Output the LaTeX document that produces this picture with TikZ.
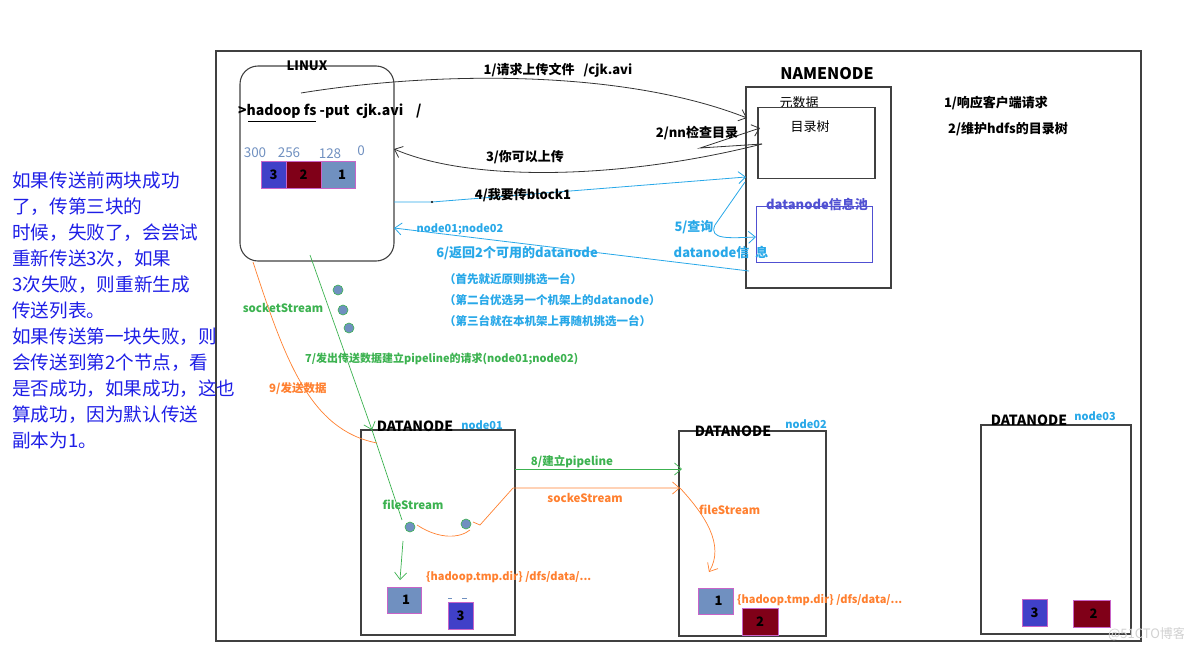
\documentclass[tikz,border=0pt]{standalone}
\usepackage{fontspec}
\setmainfont{Noto Sans CJK SC}
\usetikzlibrary{arrows.meta}
\definecolor{lblue}{RGB}{40,168,232}
\definecolor{dgreen}{RGB}{60,178,80}
\definecolor{orng}{RGB}{255,128,48}
\definecolor{steel}{RGB}{112,144,192}
\definecolor{dred}{RGB}{128,0,24}
\definecolor{bblue}{RGB}{64,64,200}
\definecolor{pborder}{RGB}{200,100,200}
\definecolor{ltxt}{RGB}{30,30,230}
\definecolor{pool}{RGB}{80,80,210}
\definecolor{frame}{RGB}{64,64,64}
\begin{document}
\begin{tikzpicture}[x=1pt,y=-1pt,
  box/.style={draw=frame, line width=1.1pt, inner sep=0},
  blk/.style={draw=pborder, line width=0.8pt, inner sep=0, font=\bfseries\fontsize{13}{15}\selectfont, text=black},
  arr/.style={-{Straight Barb[length=7pt,width=12pt]}},
  lbl/.style={inner sep=0, font=\bfseries\fontsize{13}{15}\selectfont},
  slbl/.style={inner sep=0, font=\bfseries\fontsize{11.5}{14}\selectfont},
  tlbl/.style={inner sep=0, font=\bfseries\fontsize{11}{13}\selectfont},
  dot/.style={circle, fill=steel, draw=dgreen, line width=0.6pt, minimum size=10pt, inner sep=0},
]
\useasboundingbox (0,0) rectangle (1184,651);
% outer frame
\node[box, minimum width=925pt, minimum height=590pt] (frame) at (678.5,346) {};

% left text
\node[inner sep=0, anchor=north west, align=left, text=ltxt,
      font=\fontsize{18.6}{26}\selectfont] (note) at (12,172) {%
如果传送前两块成功\\了，传第三块的\\时候，失败了，会尝试\\重新传送3次，如果\\3次失败，则重新生成\\传送列表。\\如果传送第一块失败，则\\会传送到第2个节点，看\\是否成功，如果成功，这也\\算成功，因为默认传送\\副本为1。};

% LINUX box
\node[box, rounded corners=18pt, minimum width=154pt, minimum height=195pt] (linux) at (317,163.5) {};
\node[lbl] (linuxt) at (307,66) {LINUX};
\node[inner sep=0, anchor=west, font=\bfseries\fontsize{14}{16}\selectfont] (cmd) at (238,111) {>hadoop fs -put\ \ cjk.avi\ \ \ \ /};
\draw[line width=0.8pt] (248,121) -- (316,121);
\node[inner sep=0, text=steel, font=\fontsize{13.5}{15}\selectfont] (n300) at (255,153) {300};
\node[inner sep=0, text=steel, font=\fontsize{13.5}{15}\selectfont] (n256) at (289,153) {256};
\node[inner sep=0, text=steel, font=\fontsize{13.5}{15}\selectfont] (n128) at (330,154) {128};
\node[inner sep=0, text=steel, font=\fontsize{13.5}{15}\selectfont] (n0) at (361,151) {0};
\node[blk, fill=bblue, minimum width=25pt, minimum height=27pt] (b3) at (273.5,174.5) {\raisebox{-5pt}{3}};
\node[blk, fill=dred, minimum width=35pt, minimum height=27pt] (b2) at (303.5,174.5) {\raisebox{-2pt}{2}};
\node[blk, fill=steel, minimum width=34pt, minimum height=27pt] (b1) at (338,174.5) {\raisebox{-2pt}{\hspace{8pt}1}};

% NAMENODE
\node[box, minimum width=145pt, minimum height=201pt] (nn) at (818.5,187.5) {};
\node[inner sep=0, font=\bfseries\fontsize{16}{18}\selectfont] (nnt) at (827,74) {NAMENODE};
\node[inner sep=0, font=\fontsize{13}{15}\selectfont] (meta) at (799,103) {元数据};
\node[box, minimum width=117pt, minimum height=71pt] (tree) at (816.5,143) {};
\node[inner sep=0, font=\fontsize{13}{15}\selectfont] (treet) at (810,127) {目录树};
\node[draw=pool, line width=0.9pt, inner sep=0, minimum width=116pt, minimum height=56pt] (poolbox) at (814,234) {};
\node[lbl, text=pool] (poolt) at (817,205) {datanode信息池};
\node[lbl] (r1) at (996,103) {1/响应客户端请求};
\node[lbl] (r2) at (1008,129) {2/维护hdfs的目录树};

% coordinates
\coordinate (c1s) at (301,93);
\coordinate (c1e) at (747,118);
\coordinate (c2s) at (762,144);
\coordinate (c2m) at (700,148);
\coordinate (c2e) at (760,128);
\coordinate (c3e) at (394,149);
\coordinate (c4s) at (394,202);
\coordinate (c4m) at (432,202);
\coordinate (c4e) at (746,177);
\coordinate (c5s) at (745,182);
\coordinate (c5m) at (715,225);
\coordinate (c5e) at (756,237);
\coordinate (c6s) at (749,271);
\coordinate (c6e) at (394,228);

% arrows 1-6
\draw[arr, line width=0.8pt, black!80] (c1s) .. controls (430,72) and (620,68) .. (c1e);
\node[lbl] (l1) at (558,70) {1/请求上传文件\ \ \ /cjk.avi};
\draw[arr, line width=0.8pt, black!80] (c2s) -- (c2m) -- (c2e);
\node[lbl] (l2) at (697,133) {2/nn检查目录};
\draw[arr, line width=0.8pt, black!80] (c2s) .. controls (620,180) and (470,182) .. (c3e);
\node[lbl] (l3) at (525,157) {3/你可以上传};
\draw[arr, line width=0.8pt, lblue] (c4s) -- (c4m) -- (c4e);
\fill (c4m) circle (1.2pt);
\node[lbl] (l4) at (523,195) {4/我要传block1};
\draw[arr, line width=0.8pt, lblue] (c5s) -- (c5m) .. controls (708,240) and (730,238) .. (c5e);
\node[lbl, text=lblue] (l5) at (694,227) {5/查询};
\node[lbl, text=lblue] (l5b) at (721,253) {datanode信\ \ 息};
\draw[arr, line width=0.8pt, lblue] (c6s) -- (c6e);
\node[tlbl, text=lblue] (l6a) at (460,229) {node01;node02};
\node[lbl, text=lblue] (l6) at (517,253) {6/返回2个可用的datanode};
\node[slbl, text=lblue, anchor=west] (q1) at (444,279) {（首先就近原则挑选一台）};
\node[slbl, text=lblue, anchor=west] (q2) at (444,300) {（第二台优选另一个机架上的datanode）};
\node[slbl, text=lblue, anchor=west] (q3) at (444,321) {（第三台就在本机架上再随机挑选一台）};

% DATANODE boxes
\node[box, minimum width=154pt, minimum height=205pt] (dn1) at (438,532.5) {};
\node[inner sep=0, font=\bfseries\fontsize{14}{16}\selectfont] (dn1t) at (415,426) {DATANODE};
\node[tlbl, text=lblue] (dn1n) at (482,425) {node01};
\node[box, minimum width=147pt, minimum height=205pt] (dn2) at (752.5,533.5) {};
\node[inner sep=0, font=\bfseries\fontsize{14}{16}\selectfont] (dn2t) at (733,431) {DATANODE};
\node[tlbl, text=lblue] (dn2n) at (806,424) {node02};
\node[box, minimum width=150pt, minimum height=209pt] (dn3) at (1056,529.5) {};
\node[inner sep=0, font=\bfseries\fontsize{14}{16}\selectfont] (dn3t) at (1029,420) {DATANODE};
\node[tlbl, text=lblue] (dn3n) at (1095,416) {node03};

% green 7 and dots
\coordinate (g7s) at (310,255);
\coordinate (g7e) at (372,430);
\coordinate (g7f) at (402,520);
\draw[arr, line width=0.7pt, dgreen] (g7s) -- (g7e);
\draw[line width=0.7pt, dgreen] (g7e) -- (g7f);
\node[dot] (d1) at (338,290) {};
\node[dot] (d2) at (343,310) {};
\node[dot] (d3) at (349,328) {};
\node[slbl, text=dgreen] (sock) at (283,308) {socketStream};
\node[tlbl, text=dgreen, anchor=west] (l7) at (305,359) {7/发出传送数据建立pipeline的请求(node01;node02)};

% orange 9
\coordinate (o9s) at (253,262);
\coordinate (o9e) at (377,443);
\draw[line width=0.7pt, orng] (o9s) .. controls (285,360) and (310,430) .. (o9e);
\node[slbl, text=orng, anchor=west] (l9) at (269,389) {9/发送数据};

% inside node01
\node[slbl, text=dgreen] (fs1) at (413,505) {fileStream};
\node[dot] (d4) at (410,527) {};
\node[dot] (d5) at (466,524) {};
\coordinate (gd1) at (403,541);
\coordinate (gd2) at (400,580);
\draw[arr, line width=0.7pt, dgreen] (gd1) -- (gd2);
\coordinate (o1) at (417,525);
\coordinate (o2) at (473,522);
\coordinate (o3) at (480,525);
\coordinate (o4) at (513,488);
\coordinate (o5) at (680,488);
\draw[line width=0.7pt, orng] (o1) .. controls (440,540) and (460,538) .. (470,530);
\draw[arr, line width=0.7pt, orng] (o2) -- (o3) -- (o4) -- (o5);
\coordinate (g8s) at (515,469);
\coordinate (g8e) at (682,469);
\draw[arr, line width=0.7pt, dgreen] (g8s) -- (g8e);
\node[slbl, text=dgreen] (l8) at (572,462) {8/建立pipeline};
\node[slbl, text=orng] (sk) at (585,498) {sockeStream};
\node[tlbl, text=orng, anchor=west] (hd1) at (426,577) {\{hadoop.tmp.dir\} /dfs/data/...};
\node[blk, fill=steel, minimum width=34pt, minimum height=26pt] (n1b1) at (404,600) {\hspace{4pt}1};
\node[blk, fill=bblue, minimum width=25pt, minimum height=27pt] (n1b3) at (460.5,615.5) {\raisebox{-3pt}{3}};
\draw[steel, line width=0.8pt] (448,598) -- (452,598) (462,598) -- (467,598);

% inside node02
\coordinate (o6) at (709,572);
\draw[arr, line width=0.7pt, orng] (o5) .. controls (705,515) and (725,545) .. (o6);
\node[slbl, text=orng, anchor=west] (fs2) at (699,510) {fileStream};
\node[blk, fill=steel, minimum width=35pt, minimum height=26pt] (n2b1) at (715.5,601) {\raisebox{-4pt}{\hspace{6pt}1}};
\node[blk, fill=dred, minimum width=36pt, minimum height=27pt] (n2b2) at (760,621.5) {\raisebox{-3pt}{2}};
\node[tlbl, text=orng, anchor=west] (hd2) at (737,600) {\{hadoop.tmp.dir\} /dfs/data/...};

% inside node03
\node[blk, fill=bblue, minimum width=25pt, minimum height=27pt] (n3b3) at (1034.5,612.5) {\raisebox{-3pt}{3}};
\node[blk, fill=dred, minimum width=37pt, minimum height=27pt] (n3b2) at (1091.5,613.5) {\raisebox{-3pt}{\hspace{4pt}2}};

% watermark
\node[inner sep=0, text=black!18, font=\fontsize{13}{15}\selectfont] (wm) at (1147,634) {@51CTO博客};
\end{tikzpicture}
\end{document}
